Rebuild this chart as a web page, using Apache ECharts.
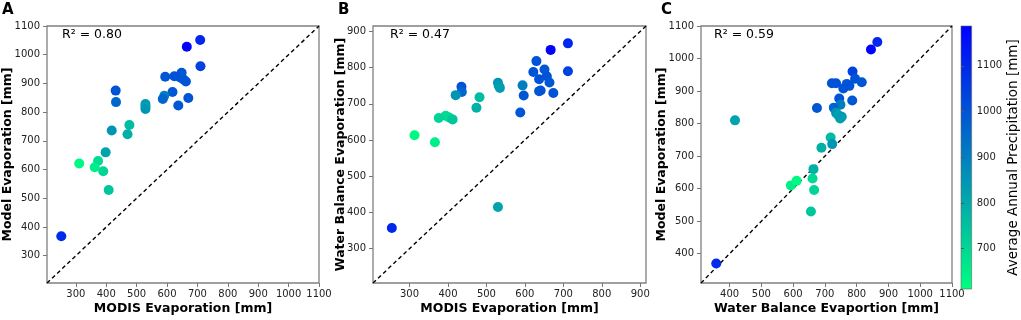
<!DOCTYPE html>
<html>
<head>
<meta charset="utf-8">
<script src="https://cdn.jsdelivr.net/npm/echarts@6/dist/echarts.min.js"></script>
<style>
  html, body { margin: 0; padding: 0; background: #fff; }
  #container { width: 1021px; height: 320px; }
</style>
</head>
<body>
<div id="container"></div>
<script>
// [x, y, average annual precipitation]
let pointsA = [ // MODIS vs Model
  [709, 1051, 1100], [665, 1028, 1185], [710, 960, 1040], [431, 875, 1000], [432, 835, 960],
  [594, 923, 990], [624, 925, 1000], [648, 937, 990], [643, 921, 1000], [654, 914, 990],
  [662, 907, 1000], [618, 870, 990], [670, 849, 1000], [637, 823, 990], [591, 857, 900],
  [586, 846, 960], [529, 828, 840], [529, 820, 830], [529, 811, 850], [476, 755, 760],
  [470, 723, 790], [418, 736, 850], [398, 660, 820], [311, 621, 625], [373, 630, 690],
  [362, 608, 650], [390, 594, 710], [408, 529, 740], [252, 368, 1090]
];
let pointsB = [ // MODIS vs Water Balance
  [712, 867, 1100], [667, 849, 1185], [712, 790, 1040], [630, 818, 1000], [622, 788, 1000],
  [651, 795, 990], [637, 768, 1000], [657, 776, 1000], [664, 759, 990], [637, 735, 990],
  [641, 737, 1000], [674, 730, 1000], [594, 751, 900], [597, 723, 990], [588, 676, 990],
  [530, 758, 850], [532, 750, 840], [535, 744, 830], [482, 718, 760], [474, 689, 790],
  [435, 747, 1000], [436, 733, 960], [420, 724, 850], [394, 667, 690], [376, 661, 710],
  [403, 662, 700], [412, 657, 740], [313, 613, 625], [366, 594, 650], [254, 357, 1100],
  [530, 415, 820]
];
let pointsC = [ // Water Balance vs Model
  [865, 1051, 1100], [845, 1028, 1185], [787, 960, 1040], [795, 938, 1000], [816, 927, 990],
  [722, 924, 1000], [735, 924, 1000], [769, 922, 990], [777, 916, 1000], [758, 908, 1000],
  [786, 871, 990], [675, 848, 990], [745, 877, 1000], [749, 858, 900], [728, 849, 960],
  [735, 833, 850], [742, 826, 830], [753, 821, 840], [748, 816, 830], [417, 810, 820],
  [718, 757, 760], [723, 737, 850], [689, 726, 790], [664, 660, 790], [661, 631, 700],
  [666, 596, 710], [656, 530, 740], [593, 610, 650], [611, 624, 625], [358, 370, 1090]
];

let limA = [205, 1100];
let limB = [205, 915];
let limC = [310, 1100];
let ticksA = [300, 400, 500, 600, 700, 800, 900, 1000, 1100];
let ticksB = [300, 400, 500, 600, 700, 800, 900];
let ticksC = [400, 500, 600, 700, 800, 900, 1000, 1100];
let r2Labels = ['R² = 0.80', 'R² = 0.47', 'R² = 0.59'];

let precipRange = [612, 1187];
let precipTicks = [700, 800, 900, 1000, 1100];
let precipColors = ['#00ff80', '#0000ff'];

const FONT = 'DejaVu Sans';
const plain = (v) => String(v);

function axis(grid, lim, ticks, name, gap, isY) {
  return {
    type: 'value',
    gridIndex: grid,
    min: lim[0],
    max: lim[1],
    name: name,
    nameLocation: 'middle',
    nameGap: gap,
    nameMoveOverlap: false,
    nameTextStyle: { fontFamily: FONT, fontWeight: 'bold', fontSize: 12.5, color: '#000' },
    axisLine: { show: false },
    axisTick: { show: true, length: 4, customValues: ticks, lineStyle: { color: '#777', width: 1 } },
    axisLabel: {
      customValues: ticks,
      formatter: plain,
      margin: isY ? 7 : 6,
      fontFamily: FONT,
      fontSize: 10,
      color: '#222',
    },
    splitLine: { show: false },
  };
}

function scatter(i, pts) {
  return {
    type: 'scatter',
    xAxisIndex: i,
    yAxisIndex: i,
    data: pts,
    symbolSize: 10,
    itemStyle: { opacity: 1 },
    z: 3,
  };
}

function oneToOne(i, lim) {
  return {
    type: 'line',
    xAxisIndex: i,
    yAxisIndex: i,
    data: [[lim[0], lim[0]], [lim[1], lim[1]]],
    symbol: 'none',
    silent: true,
    lineStyle: { color: '#000', width: 1.4, type: [4, 3] },
    z: 2,
  };
}

var myChart = echarts.init(document.getElementById('container'));

let gridStyle = { show: true, borderColor: '#808080', borderWidth: 1.3, backgroundColor: '#fff' };

let option = {
  backgroundColor: '#fff',
  animation: false,
  grid: [
    Object.assign({ left: 46, top: 26, width: 273, height: 263 }, gridStyle),
    Object.assign({ left: 373, top: 26, width: 273, height: 262 }, gridStyle),
    Object.assign({ left: 701, top: 26, width: 251, height: 262 }, gridStyle),
    {
      show: true, left: 961, top: 26, width: 13, height: 263,
      borderColor: '#666', borderWidth: 0.6,
      backgroundColor: {
        type: 'linear', x: 0, y: 0, x2: 0, y2: 1,
        colorStops: [{ offset: 0, color: precipColors[1] }, { offset: 1, color: precipColors[0] }],
      },
    },
  ],
  xAxis: [
    axis(0, limA, ticksA, 'MODIS Evaporation [mm]', 19, false),
    axis(1, limB, ticksB, 'MODIS Evaporation [mm]', 19, false),
    axis(2, limC, ticksC, 'Water Balance Evaportion [mm]', 19, false),
    { type: 'value', gridIndex: 3, show: false },
  ],
  yAxis: [
    axis(0, limA, ticksA, 'Model Evaporation [mm]', 33, true),
    axis(1, limB, ticksB, 'Water Balance Evaporation [mm]', 26, true),
    axis(2, limC, ticksC, 'Model Evaporation [mm]', 33, true),
    {
      type: 'value',
      gridIndex: 3,
      position: 'right',
      min: precipRange[0],
      max: precipRange[1],
      name: 'Average Annual Precipitation [mm]',
      nameLocation: 'middle',
      nameRotate: 90,
      nameGap: 32,
      nameTextStyle: { fontFamily: FONT, fontSize: 13.5, color: '#000' },
      axisLine: { show: false },
      axisTick: { show: true, length: 3, customValues: precipTicks, lineStyle: { color: '#555' } },
      axisLabel: {
        customValues: precipTicks,
        formatter: plain,
        margin: 5,
        fontFamily: FONT,
        fontSize: 10,
        color: '#222',
      },
      splitLine: { show: false },
    },
  ],
  visualMap: {
    type: 'continuous',
    show: false,
    dimension: 2,
    seriesIndex: [0, 2, 4],
    min: precipRange[0],
    max: precipRange[1],
    inRange: { color: precipColors },
  },
  graphic: [
    { type: 'text', left: 2, top: 3, style: { text: 'A', font: 'bold 15px "DejaVu Sans"', fill: '#000' } },
    { type: 'text', left: 338, top: 3, style: { text: 'B', font: 'bold 15px "DejaVu Sans"', fill: '#000' } },
    { type: 'text', left: 661, top: 3, style: { text: 'C', font: 'bold 15px "DejaVu Sans"', fill: '#000' } },
    { type: 'text', left: 62, top: 28, style: { text: r2Labels[0], font: '12.5px "DejaVu Sans"', fill: '#000' } },
    { type: 'text', left: 390, top: 28, style: { text: r2Labels[1], font: '12.5px "DejaVu Sans"', fill: '#000' } },
    { type: 'text', left: 714, top: 28, style: { text: r2Labels[2], font: '12.5px "DejaVu Sans"', fill: '#000' } },
  ],
  series: [
    scatter(0, pointsA), oneToOne(0, limA),
    scatter(1, pointsB), oneToOne(1, limB),
    scatter(2, pointsC), oneToOne(2, limC),
  ],
};

if (option && typeof option === 'object') {
  myChart.setOption(option);
}
</script>
</body>
</html>
